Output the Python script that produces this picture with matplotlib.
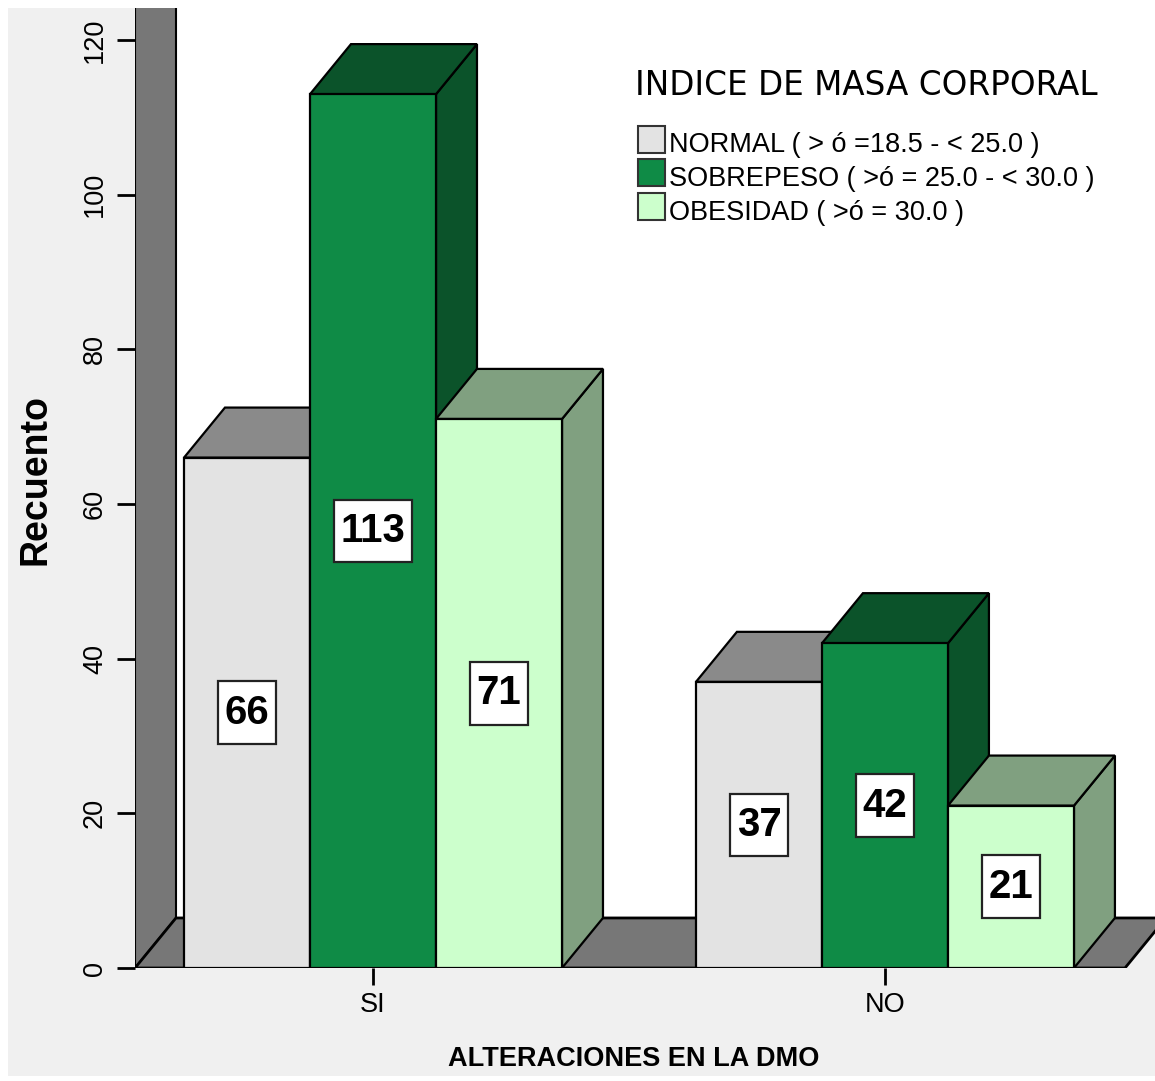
import matplotlib
matplotlib.use('Agg')
import matplotlib.pyplot as plt
from matplotlib.patches import Polygon, Rectangle

# Recuento por alteración de la DMO y categoría de IMC
grupos = ['SI', 'NO']
series = ['NORMAL ( > ó =18.5 - < 25.0 )',
          'SOBREPESO ( >ó = 25.0 - < 30.0 )',
          'OBESIDAD ( >ó = 30.0 )']
normal = [66, 37]
sobrepeso = [113, 42]
obesidad = [71, 21]
yticks = [0, 20, 40, 60, 80, 100, 120]

# colores: (frente, techo/lateral)
colores = [('#e3e3e3', '#8a8a8a'),
           ('#0f8b46', '#0b532a'),
           ('#ccffcc', '#80a080')]
gris_pared = '#777777'

plt.rcParams['font.family'] = ['Liberation Sans', 'DejaVu Sans']

W, H = 1155, 1081
fig = plt.figure(figsize=(W / 100, H / 100), dpi=100)
fig.patch.set_facecolor('white')


def fx(px):
    return px / W


def fy(py):
    return 1 - py / H


# fondo gris del panel
fig.patches.append(Rectangle((fx(8), fy(1076)), fx(1155) - fx(8), fy(8) - fy(1076),
                             transform=fig.transFigure, facecolor='#f0f0f0',
                             edgecolor='none', zorder=-5))

ax = fig.add_axes([fx(135), fy(968), fx(1155) - fx(135), fy(8) - fy(968)])
ax.set_facecolor('none')
xl, xr = -1.889, 6.206
ax.set_xlim(xl, xr)
ax.set_ylim(0, 124.14)
for s in ax.spines.values():
    s.set_visible(False)

# profundidad del efecto 3D (en unidades de datos)
dx, dy = 0.325, 6.47
centros = [0, 4.063]
ancho = 1.0
x_suelo = 5.968

# plano de fondo, pared y suelo
ax.add_patch(Rectangle((xl + dx, dy), 20, 200, facecolor='white', edgecolor='none', zorder=1))
ax.add_patch(Polygon([(xl, 0), (xl, 200), (xl + dx, 200), (xl + dx, dy)], closed=True,
                     facecolor=gris_pared, edgecolor='black', lw=1.5, zorder=2))
ax.add_patch(Polygon([(xl, 0), (xl + dx, dy), (x_suelo + dx, dy), (x_suelo, 0)], closed=True,
                     facecolor=gris_pared, edgecolor='black', lw=2, zorder=2))

valores = [normal, sobrepeso, obesidad]
z = 3
for g, c in enumerate(centros):
    for j, vals in enumerate(valores):
        v = vals[g]
        frente, oscuro = colores[j]
        x0 = c + (j - 1) * ancho - ancho / 2
        x1 = x0 + ancho
        lado = Polygon([(x1, 0), (x1 + dx, dy), (x1 + dx, v + dy), (x1, v)], closed=True,
                       facecolor=oscuro, edgecolor='black', lw=1.6, zorder=z)
        techo = Polygon([(x0, v), (x0 + dx, v + dy), (x1 + dx, v + dy), (x1, v)], closed=True,
                        facecolor=oscuro, edgecolor='black', lw=1.6, zorder=z)
        cara = Rectangle((x0, 0), ancho, v, facecolor=frente, edgecolor='black', lw=1.6,
                         zorder=z + 1)
        ax.add_patch(lado)
        ax.add_patch(techo)
        ax.add_patch(cara)
        ax.text((x0 + x1) / 2, v / 2, str(v), ha='center', va='center', fontsize=29,
                fontweight='bold', zorder=z + 2,
                bbox=dict(boxstyle='square,pad=0.17', facecolor='white',
                          edgecolor='#222222', lw=1.6, mutation_aspect=1.8))
        z += 3

# ejes
ax.set_yticks(yticks)
ax.set_xticks(centros, grupos)
ax.tick_params(axis='y', length=13, width=2, pad=6.5, labelsize=19.5, labelrotation=90)
ax.tick_params(axis='x', length=12, width=2, pad=5, labelsize=19.5)
for lab in ax.get_yticklabels():
    lab.set_verticalalignment('center')

fig.text(fx(36), fy(480), 'Recuento', rotation=90, fontsize=27, fontweight='bold',
         ha='center', va='center')
fig.text(fx(634), fy(1066), 'ALTERACIONES EN LA DMO', fontsize=19.5, fontweight='bold',
         ha='center', va='baseline')

# leyenda
fig.text(fx(635), fy(95), 'INDICE DE MASA CORPORAL', fontsize=23.5, family='DejaVu Sans',
         ha='left', va='baseline')
for i, lab in enumerate(series):
    base = 152.5 + 33.5 * i
    fig.patches.append(Rectangle((fx(638), fy(base)), fx(27), 27 / H,
                                 transform=fig.transFigure, facecolor=colores[i][0],
                                 edgecolor='#333333', lw=1.5, zorder=5))
    fig.text(fx(669), fy(base), lab, fontsize=19.5, ha='left', va='baseline')

fig.savefig('out.png', dpi=100)
